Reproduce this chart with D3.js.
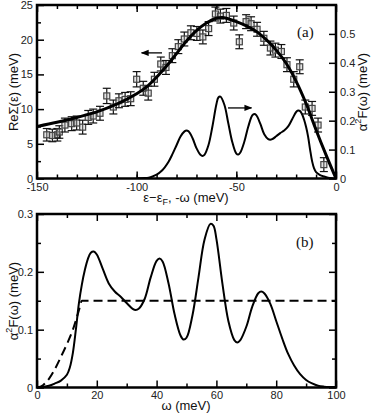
<!DOCTYPE html>
<html>
<head>
<meta charset="utf-8">
<script src="https://cdn.jsdelivr.net/npm/d3@7"></script>
<style>
  body { margin: 0; background: #fff; }
  text { font-family: "Liberation Sans", Arial, sans-serif; fill: #111; }
  .tick text { font-size: 11px; fill: #222; }
  .alabel { font-size: 13px; }
  .panel { font-family: "Liberation Serif", "Times New Roman", serif; font-size: 15px; }
</style>
</head>
<body>
<svg id="chart" width="374" height="415"></svg>
<script>
// alpha^2 F(omega) spectrum (meV), used in both panels
const omega = [0, 2, 4, 6, 8, 10, 11, 12, 13, 14, 15, 16, 17, 18, 19, 20, 22, 24, 26, 28, 30, 32, 33, 34, 36, 38, 40, 41, 42, 44, 46, 48, 49, 50, 52, 54, 56, 58, 59, 60, 62, 64, 66, 67, 68, 70, 72, 74, 75, 76, 78, 80, 82, 84, 86, 88, 90, 92, 94, 96, 98, 100];
const a2F = [0, 0.001, 0.003, 0.007, 0.012, 0.022, 0.035, 0.06, 0.1, 0.145, 0.178, 0.203, 0.222, 0.233, 0.235, 0.23, 0.205, 0.18, 0.166, 0.157, 0.146, 0.136, 0.134, 0.136, 0.153, 0.19, 0.219, 0.223, 0.218, 0.18, 0.127, 0.09, 0.083, 0.086, 0.125, 0.19, 0.255, 0.283, 0.28, 0.257, 0.18, 0.115, 0.082, 0.078, 0.082, 0.105, 0.14, 0.163, 0.166, 0.163, 0.145, 0.115, 0.085, 0.058, 0.038, 0.023, 0.013, 0.007, 0.003, 0.0015, 0.001, 0.001];

// Debye-like model (dashed)
const debyeOmega = [0, 2, 4, 6, 8, 10, 12, 14, 15, 100];
const debyeA2F = [0, 0.004, 0.015, 0.032, 0.053, 0.075, 0.1, 0.133, 0.15, 0.15];

// measured Re Sigma with error bars
const sigmaE = [-145.1, -142.3, -139.8, -138.8, -136.0, -132.6, -130.1, -127.1, -124.3, -121.8, -118.4, -115.0, -111.7, -108.9, -105.8, -103.0, -100.0, -96.7, -94.2, -91.1, -87.9, -85.3, -82.1, -79.1, -76.1, -72.8, -69.8, -66.8, -63.9, -60.5, -58.0, -55.0, -51.3, -48.5, -45.1, -42.6, -39.6, -36.2, -32.9, -30.4, -27.4, -24.6, -21.2, -18.2, -15.4, -12.0, -9.0, -6.1];
const sigmaRe = [6.3, 6.2, 6.3, 6.7, 7.7, 7.9, 8.0, 7.4, 8.8, 9.0, 9.4, 11.9, 10.3, 11.2, 11.4, 11.5, 14.3, 13.0, 12.3, 14.3, 16.5, 16.0, 17.7, 19.0, 20.1, 21.0, 20.9, 20.4, 21.6, 23.7, 23.4, 23.5, 22.4, 19.7, 22.6, 22.3, 21.5, 20.2, 18.8, 18.5, 18.3, 16.4, 14.3, 16.1, 10.3, 10.1, 7.7, 2.0];
const sigmaErr = [0.9, 0.9, 0.9, 0.9, 1.0, 1.0, 1.0, 1.0, 1.0, 1.0, 1.0, 1.1, 1.0, 1.0, 1.0, 1.0, 1.1, 1.0, 1.0, 1.0, 1.0, 1.0, 1.0, 1.0, 1.0, 1.0, 1.0, 1.0, 1.0, 1.0, 1.0, 1.0, 1.0, 1.0, 1.0, 1.0, 1.0, 1.0, 1.0, 1.0, 1.0, 1.0, 1.1, 1.0, 1.0, 1.0, 1.0, 1.0];

// calculated Re Sigma (thick line)
const fitE = [-150, -140, -130, -120, -110, -100, -95, -90, -85, -80, -75, -70, -65, -60, -57, -55, -50, -45, -40, -35, -30, -25, -20, -15, -10, -5, 0];
const fitRe = [7.5, 8.1, 8.8, 9.6, 10.7, 12.2, 13.2, 14.6, 16.2, 18.0, 19.8, 21.3, 22.4, 23.1, 23.2, 23.1, 22.6, 22.0, 21.2, 20.0, 18.5, 16.6, 14.0, 10.8, 7.0, 3.4, 0];

const aXTicks = [-150, -100, -50, 0];
const aYTicks = [0, 5, 10, 15, 20, 25];
const aY2Ticks = [0, 0.1, 0.2, 0.3, 0.4, 0.5];
const bXTicks = [0, 20, 40, 60, 80, 100];
const bYTicks = [0, 0.1, 0.2, 0.3];

const svg = d3.select("#chart");

let xa = d3.scaleLinear().domain([-150, 0]).range([37, 336]);
let ya = d3.scaleLinear().domain([0, 25]).range([178.5, 5]);
let ya2 = d3.scaleLinear().domain([0, 0.6]).range([178.5, 5]);
let xb = d3.scaleLinear().domain([0, 100]).range([37, 336]);
let yb = d3.scaleLinear().domain([0, 0.3]).range([387.5, 214]);

function fmt(d) { return d3.format("")(d).replace("\u2212", "-"); }

function ticks(axis, y0, x0, major, minor, labels, pad) {
  // minor ticks
  svg.append("g").attr("transform", "translate(" + x0 + "," + y0 + ")")
    .call(axis.tickValues(minor).tickSizeInner(-4).tickSizeOuter(0).tickFormat(""))
    .call(g => g.select(".domain").remove())
    .selectAll("line").attr("stroke", "#000").attr("stroke-width", 1.5);
  let g = svg.append("g").attr("transform", "translate(" + x0 + "," + y0 + ")")
    .call(axis.tickValues(major).tickSizeInner(-7).tickSizeOuter(0).tickPadding(pad || 4)
      .tickFormat(labels ? fmt : ""))
    .call(g => g.select(".domain").remove());
  g.selectAll("line").attr("stroke", "#000").attr("stroke-width", 1.5);
  g.selectAll("text").attr("font-family", null).attr("font-size", null);
}

/* panel (a) */
ticks(d3.axisBottom(xa), 178.5, 0, aXTicks, d3.range(-140, 0, 10), true, 5);
ticks(d3.axisTop(xa), 5, 0, aXTicks, d3.range(-140, 0, 10), false);
ticks(d3.axisLeft(ya), 0, 37, aYTicks, d3.range(2.5, 25, 5), true);
ticks(d3.axisRight(ya2), 0, 336, aY2Ticks, [], true);

let lineA = d3.line().x(d => xa(d[0])).y(d => ya(d[1])).curve(d3.curveCatmullRom.alpha(0.5));
let lineA2 = d3.line().x(d => xa(-d[0])).y(d => ya2(d[1])).curve(d3.curveCatmullRom.alpha(0.5));

svg.append("clipPath").attr("id", "clipA").append("rect")
  .attr("x", 37).attr("y", 5).attr("width", 299).attr("height", 173.5);

svg.append("path").datum(omega.map((w, i) => [w, a2F[i]]))
  .attr("d", lineA2).attr("fill", "none").attr("stroke", "#000").attr("stroke-width", 2)
  .attr("clip-path", "url(#clipA)");

// error bars + squares
let pts = svg.append("g").selectAll("g").data(sigmaE.map((e, i) => [e, sigmaRe[i], sigmaErr[i]]))
  .enter().append("g");
pts.append("line")
  .attr("x1", d => xa(d[0])).attr("x2", d => xa(d[0]))
  .attr("y1", d => ya(d[1] - d[2])).attr("y2", d => ya(d[1] + d[2]))
  .attr("stroke", "#111").attr("stroke-width", 1.2);
pts.append("line")
  .attr("x1", d => xa(d[0]) - 4).attr("x2", d => xa(d[0]) + 4)
  .attr("y1", d => ya(d[1] - d[2])).attr("y2", d => ya(d[1] - d[2]))
  .attr("stroke", "#111").attr("stroke-width", 1.2);
pts.append("line")
  .attr("x1", d => xa(d[0]) - 4).attr("x2", d => xa(d[0]) + 4)
  .attr("y1", d => ya(d[1] + d[2])).attr("y2", d => ya(d[1] + d[2]))
  .attr("stroke", "#111").attr("stroke-width", 1.2);
pts.append("rect")
  .attr("x", d => xa(d[0]) - 3).attr("y", d => ya(d[1]) - 3)
  .attr("width", 6).attr("height", 6)
  .attr("fill", "#bbb").attr("fill-opacity", 0.4).attr("stroke", "#444").attr("stroke-width", 1.2);

svg.append("path").datum(fitE.map((e, i) => [e, fitRe[i]]))
  .attr("d", lineA).attr("fill", "none").attr("stroke", "#000").attr("stroke-width", 3)
  .attr("clip-path", "url(#clipA)");

// arrows
let defs = svg.append("defs");
defs.append("marker").attr("id", "head").attr("viewBox", "0 0 10 10")
  .attr("refX", 9).attr("refY", 5).attr("markerWidth", 6).attr("markerHeight", 6)
  .attr("orient", "auto")
  .append("path").attr("d", "M0,1 L10,5 L0,9 z").attr("fill", "#000");
svg.append("line")
  .attr("x1", xa(-87.3)).attr("x2", xa(-97.5)).attr("y1", ya(18.1)).attr("y2", ya(18.1))
  .attr("stroke", "#000").attr("stroke-width", 1.3).attr("marker-end", "url(#head)");
svg.append("line")
  .attr("x1", xa(-54.2)).attr("x2", xa(-42.4)).attr("y1", ya2(0.244)).attr("y2", ya2(0.244))
  .attr("stroke", "#000").attr("stroke-width", 1.3).attr("marker-end", "url(#head)");

svg.append("rect").attr("x", 37).attr("y", 5).attr("width", 299).attr("height", 173.5)
  .attr("fill", "none").attr("stroke", "#000").attr("stroke-width", 2.5);

svg.append("text").attr("class", "panel").attr("x", 297).attr("y", 37).text("(a)");

svg.append("text").attr("class", "alabel")
  .attr("transform", "translate(18,92) rotate(-90)").attr("text-anchor", "middle")
  .text("ReΣ(ε) (meV)");

let r = svg.append("text").attr("class", "alabel")
  .attr("transform", "translate(367,92) rotate(-90)").attr("text-anchor", "middle");
r.append("tspan").text("α");
r.append("tspan").attr("font-size", "9px").attr("dy", -6).text("2");
r.append("tspan").attr("dy", 6).text("F(ω) (meV)");

let xl = svg.append("text").attr("class", "alabel").attr("x", 186).attr("y", 202).attr("text-anchor", "middle");
xl.append("tspan").text("ε−ε");
xl.append("tspan").attr("font-size", "9px").attr("dy", 3).text("F");
xl.append("tspan").attr("dy", -3).text(", -ω (meV)");

/* panel (b) */
ticks(d3.axisBottom(xb), 387.5, 0, bXTicks, d3.range(10, 100, 20), true);
ticks(d3.axisTop(xb), 214, 0, bXTicks, d3.range(10, 100, 20), false);
ticks(d3.axisLeft(yb), 0, 37, bYTicks, [0.05, 0.15, 0.25], true);
ticks(d3.axisRight(yb), 0, 336, bYTicks, [0.05, 0.15, 0.25], false);

let lineB = d3.line().x(d => xb(d[0])).y(d => yb(d[1])).curve(d3.curveCatmullRom.alpha(0.5));
let lineDebye = d3.line().x(d => xb(d[0])).y(d => yb(d[1])).curve(d3.curveMonotoneX);

svg.append("path").datum(debyeOmega.map((w, i) => [w, debyeA2F[i]]))
  .attr("d", lineDebye).attr("fill", "none").attr("stroke", "#000").attr("stroke-width", 2)
  .attr("stroke-dasharray", "9,5");
svg.append("path").datum(omega.map((w, i) => [w, a2F[i]]))
  .attr("d", lineB).attr("fill", "none").attr("stroke", "#000").attr("stroke-width", 2);

svg.append("rect").attr("x", 37).attr("y", 214).attr("width", 299).attr("height", 173.5)
  .attr("fill", "none").attr("stroke", "#000").attr("stroke-width", 2.5);

svg.append("text").attr("class", "panel").attr("x", 296).attr("y", 247).text("(b)");

let yl = svg.append("text").attr("class", "alabel")
  .attr("transform", "translate(18,301) rotate(-90)").attr("text-anchor", "middle");
yl.append("tspan").text("α");
yl.append("tspan").attr("font-size", "9px").attr("dy", -6).text("2");
yl.append("tspan").attr("dy", 6).text("F(ω) (meV)");

svg.append("text").attr("class", "alabel").attr("x", 186).attr("y", 410)
  .attr("text-anchor", "middle").text("ω (meV)");
</script>
</body>
</html>
